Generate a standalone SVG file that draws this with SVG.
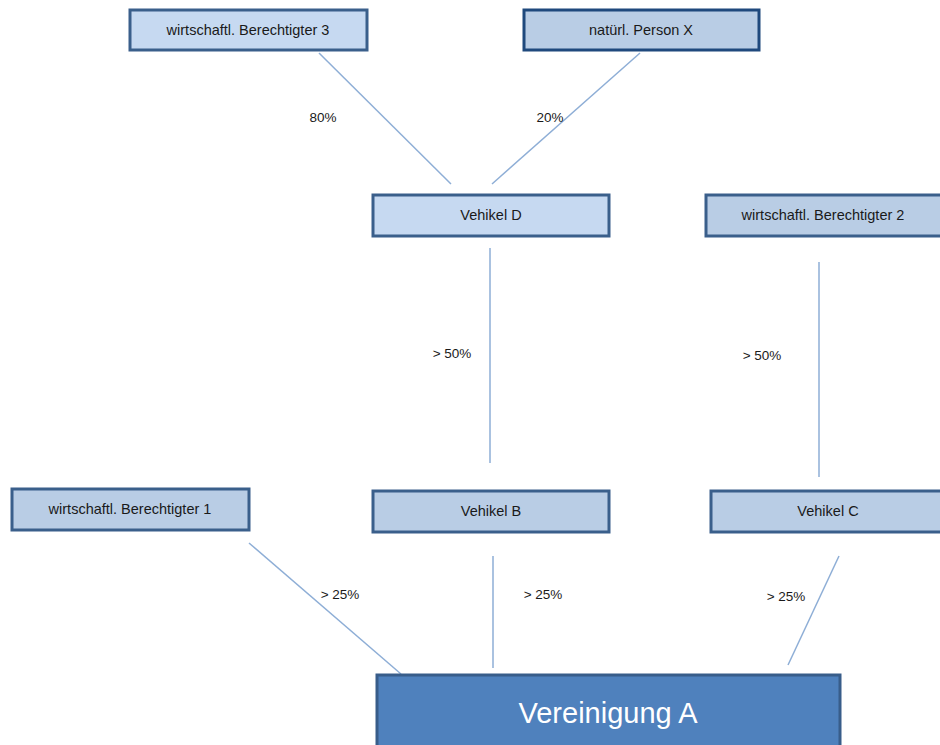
<svg xmlns="http://www.w3.org/2000/svg" width="940" height="745" viewBox="0 0 940 745">
<style>
.box{fill:#b9cde5;stroke:#3a5f8b;stroke-width:3}
.light{fill:#c6d9f1}
.dark{stroke:#1f497d}
.t{font-family:"Liberation Sans",Arial,sans-serif;font-size:14.5px;fill:#1a1a1a;text-anchor:middle}
.lbl{font-family:"Liberation Sans",Arial,sans-serif;font-size:13.5px;fill:#1a1a1a;text-anchor:middle}
.big{font-family:"Liberation Sans",Arial,sans-serif;font-size:29px;fill:#ffffff;text-anchor:middle}
.c line{stroke:#8eaed6;stroke-width:1.5}
</style>
<rect width="940" height="745" fill="#ffffff"/>
<g class="c" id="connectors">
<line x1="319" y1="53" x2="451" y2="184"/>
<line x1="640" y1="53" x2="492" y2="184"/>
<line x1="490" y1="248" x2="490" y2="463"/>
<line x1="819" y1="262" x2="819" y2="477"/>
<line x1="249" y1="543" x2="401" y2="674"/>
<line x1="493" y1="556" x2="493" y2="668"/>
<line x1="839" y1="556" x2="788" y2="665"/>
</g>
<g id="labels">
<text class="lbl" x="323" y="122">80%</text>
<text class="lbl" x="550" y="122">20%</text>
<text class="lbl" x="452" y="358">&gt; 50%</text>
<text class="lbl" x="762" y="360">&gt; 50%</text>
<text class="lbl" x="340" y="599">&gt; 25%</text>
<text class="lbl" x="543" y="599">&gt; 25%</text>
<text class="lbl" x="786" y="601">&gt; 25%</text>
</g>
<g id="wb3"><rect class="box light" x="130" y="10" width="237" height="40"/><text class="t" x="248" y="35">wirtschaftl. Berechtigter  3</text></g>
<g id="personx"><rect class="box dark" x="524" y="10" width="235" height="40"/><text class="t" x="641" y="35">natürl. Person X</text></g>
<g id="vehd"><rect class="box light" x="373" y="195" width="236" height="41"/><text class="t" x="491" y="220">Vehikel D</text></g>
<g id="wb2"><rect class="box" x="706" y="195" width="240" height="41"/><text class="t" x="823" y="220">wirtschaftl. Berechtigter 2</text></g>
<g id="wb1"><rect class="box" x="12" y="489" width="237" height="41"/><text class="t" x="130" y="514">wirtschaftl. Berechtigter 1</text></g>
<g id="vehb"><rect class="box" x="373" y="491" width="236" height="41"/><text class="t" x="491" y="516">Vehikel B</text></g>
<g id="vehc"><rect class="box" x="711" y="491" width="240" height="41"/><text class="t" x="828" y="516">Vehikel C</text></g>
<g id="verA"><rect x="377" y="675" width="463" height="80" fill="#4f81bd" stroke="#385d8a" stroke-width="3"/><text class="big" x="608" y="723">Vereinigung A</text></g>
</svg>
